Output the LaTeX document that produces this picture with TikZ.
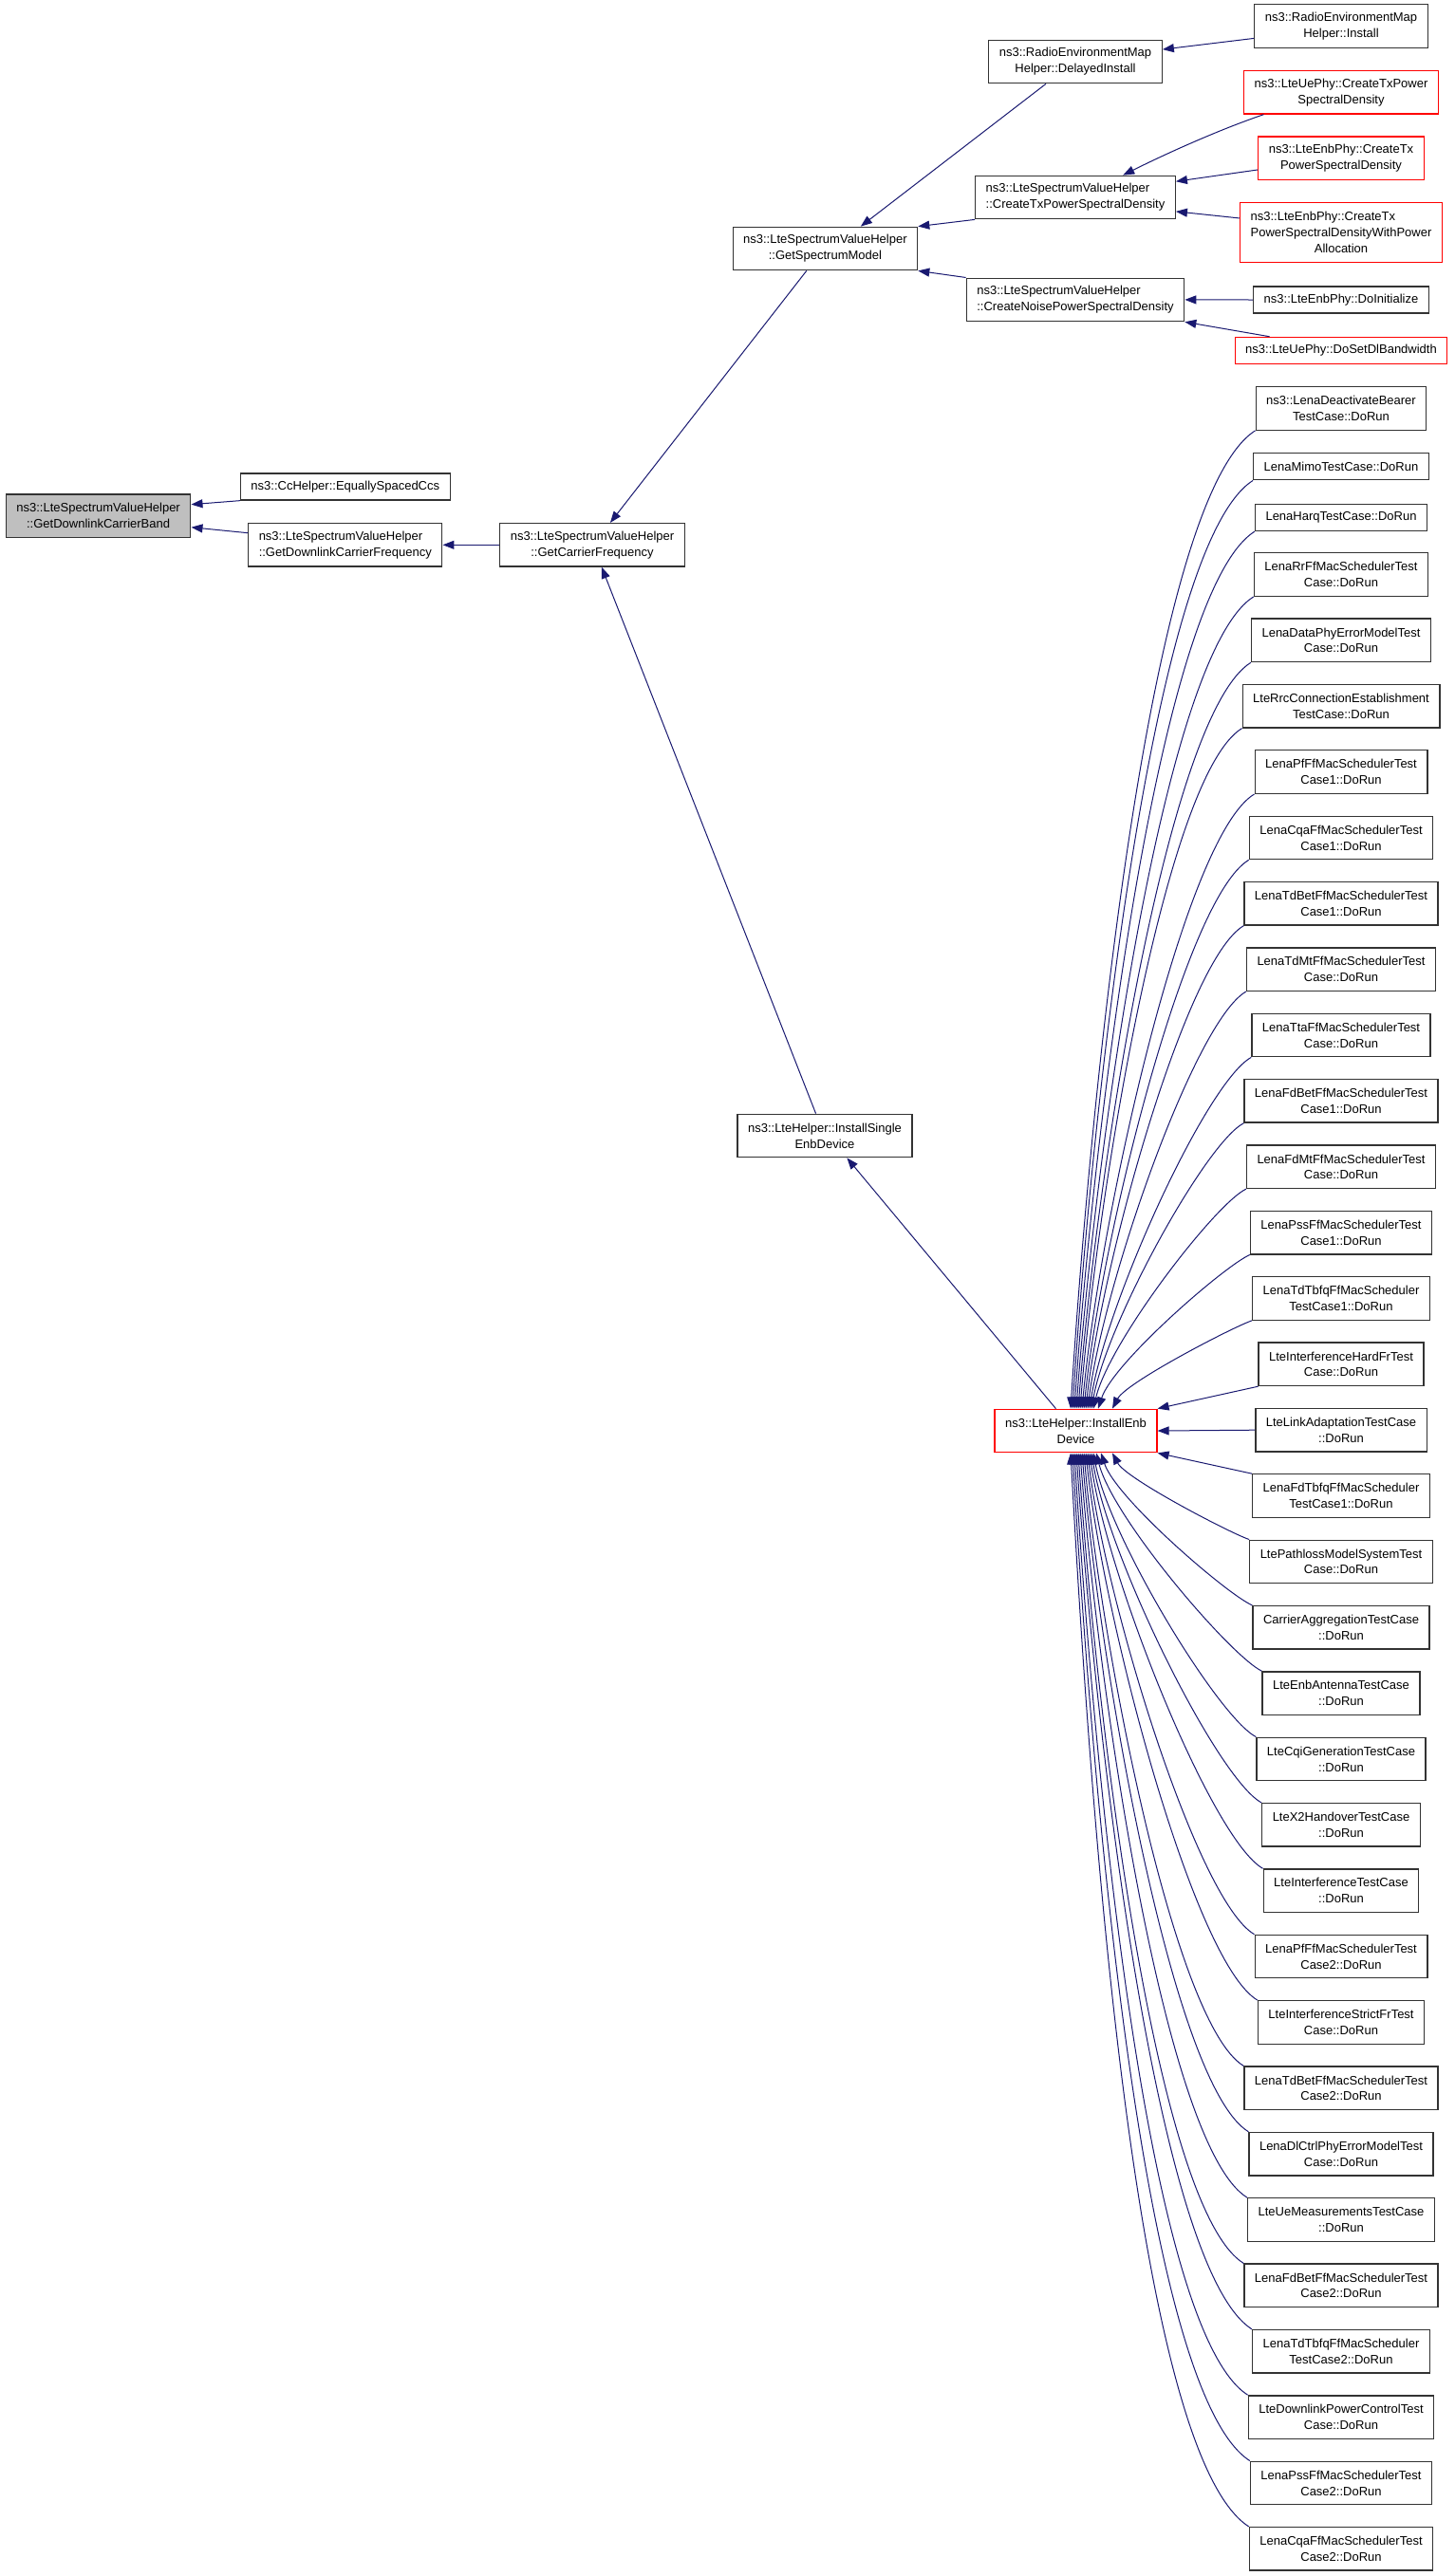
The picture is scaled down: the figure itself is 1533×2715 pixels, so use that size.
\documentclass[tikz,border=0pt]{standalone}
\usepackage{fontspec}
\setmainfont{Liberation Sans}
\usepackage{tikz}
\usetikzlibrary{arrows.meta,calc}
\definecolor{callblue}{HTML}{191970}
\definecolor{curgray}{HTML}{BFBFBF}
\definecolor{undocred}{HTML}{FF0000}
\tikzset{
func/.style={draw=black!80,line width=1.3pt,fill=white,align=center,inner xsep=11pt,inner ysep=2pt,minimum height=28pt,font=\fontsize{13}{16.8}\selectfont},
two/.style={minimum height=45.5pt},
three/.style={minimum height=63.5pt},
cur/.style={fill=curgray},
undoc/.style={draw=undocred},
call/.style={draw=callblue,line width=1pt,-{Triangle[length=12pt,width=9pt]}}
}

\begin{document}
\begin{tikzpicture}[x=1pt,y=-1pt]
\useasboundingbox (0,0) rectangle (1533,2715);
\draw
(103.6,543.7) node[func,two,cur](main){ns3::LteSpectrumValueHelper\\::GetDownlinkCarrierBand}
(363.8,513) node[func](ccs){ns3::CcHelper::EquallySpacedCcs}
(363.8,574.3) node[func,two,align=left](gdcf){ns3::LteSpectrumValueHelper\\::GetDownlinkCarrierFrequency}
(624,574.3) node[func,two](gcf){ns3::LteSpectrumValueHelper\\::GetCarrierFrequency}
(869.4,262) node[func,two](gsm){ns3::LteSpectrumValueHelper\\::GetSpectrumModel}
(869,1197) node[func,two](single){ns3::LteHelper::InstallSingle\\EnbDevice}
(1133,65) node[func,two](delayed){ns3::RadioEnvironmentMap\\Helper::DelayedInstall}
(1133,208) node[func,two,align=left](ctx){ns3::LteSpectrumValueHelper\\::CreateTxPowerSpectralDensity}
(1133,315.9) node[func,two,align=left](cnoise){ns3::LteSpectrumValueHelper\\::CreateNoisePowerSpectralDensity}
(1133.5,1508) node[func,two,undoc](enb){ns3::LteHelper::InstallEnb\\Device}
(1413,27.5) node[func,two](install){ns3::RadioEnvironmentMap\\Helper::Install}
(1413,97.3) node[func,two,undoc](uetx){ns3::LteUePhy::CreateTxPower\\SpectralDensity}
(1413,166.6) node[func,two,undoc](enbtx){ns3::LteEnbPhy::CreateTx\\PowerSpectralDensity}
(1413,245) node[func,three,undoc](enbtxw){\rlap{ns3::LteEnbPhy::CreateTx}\phantom{PowerSpectralDensityWithPower}\\PowerSpectralDensityWithPower\\Allocation}
(1413,316) node[func](doinit){ns3::LteEnbPhy::DoInitialize}
(1413,369.4) node[func,undoc](dosetdl){ns3::LteUePhy::DoSetDlBandwidth}
(1413,430.4) node[func,two](t1){ns3::LenaDeactivateBearer\\TestCase::DoRun}
(1413,491.8) node[func](t2){LenaMimoTestCase::DoRun}
(1413,545.5) node[func](t3){LenaHarqTestCase::DoRun}
;
% test cases calling InstallEnbDevice, one rank, evenly spaced
\foreach \i/\txt in {4/{LenaRrFfMacSchedulerTest\\Case::DoRun}, 5/{LenaDataPhyErrorModelTest\\Case::DoRun},
6/{LteRrcConnectionEstablishment\\TestCase::DoRun}, 7/{LenaPfFfMacSchedulerTest\\Case1::DoRun},
8/{LenaCqaFfMacSchedulerTest\\Case1::DoRun}, 9/{LenaTdBetFfMacSchedulerTest\\Case1::DoRun},
10/{LenaTdMtFfMacSchedulerTest\\Case::DoRun}, 11/{LenaTtaFfMacSchedulerTest\\Case::DoRun},
12/{LenaFdBetFfMacSchedulerTest\\Case1::DoRun}, 13/{LenaFdMtFfMacSchedulerTest\\Case::DoRun},
14/{LenaPssFfMacSchedulerTest\\Case1::DoRun}, 15/{LenaTdTbfqFfMacScheduler\\TestCase1::DoRun},
16/{LteInterferenceHardFrTest\\Case::DoRun}, 17/{LteLinkAdaptationTestCase\\::DoRun},
18/{LenaFdTbfqFfMacScheduler\\TestCase1::DoRun}, 19/{LtePathlossModelSystemTest\\Case::DoRun},
20/{CarrierAggregationTestCase\\::DoRun}, 21/{LteEnbAntennaTestCase\\::DoRun},
22/{LteCqiGenerationTestCase\\::DoRun}, 23/{LteX2HandoverTestCase\\::DoRun},
24/{LteInterferenceTestCase\\::DoRun}, 25/{LenaPfFfMacSchedulerTest\\Case2::DoRun},
26/{LteInterferenceStrictFrTest\\Case::DoRun}, 27/{LenaTdBetFfMacSchedulerTest\\Case2::DoRun},
28/{LenaDlCtrlPhyErrorModelTest\\Case::DoRun}, 29/{LteUeMeasurementsTestCase\\::DoRun},
30/{LenaFdBetFfMacSchedulerTest\\Case2::DoRun}, 31/{LenaTdTbfqFfMacScheduler\\TestCase2::DoRun},
32/{LteDownlinkPowerControlTest\\Case::DoRun}, 33/{LenaPssFfMacSchedulerTest\\Case2::DoRun},
34/{LenaCqaFfMacSchedulerTest\\Case2::DoRun}}{
\node[func,two](t\i) at (1413,{2686.3-(34-\i)*69.36}){\txt};
}
% straight calls
\foreach \x/\y in {ccs.south west/main.7, gdcf.173/main.353, gcf.west/gdcf.east, gsm.230/gcf.51,
single.112/gcf.293, enb.132/single.315, delayed.217/gsm.32, ctx.south west/gsm.north east,
cnoise.north west/gsm.south east, install.188/delayed.8, enbtx.188/ctx.9, enbtxw.172/ctx.352,
doinit.west/cnoise.east, dosetdl.169/cnoise.south east, t16.south west/enb.north east,
t17.west/enb.east, t18.north west/enb.south east}{
\draw[call](\x)--(\y);
}
\draw[call](uetx.196) .. controls +(-50,17) and +(40,-20) .. (ctx.25);
% curved calls into the top of InstallEnbDevice
\foreach \i/\d in {1/-5.5,2/-3.5,3/-1.5,4/0.5,5/2.5,6/4.5,7/6.5,8/8.5,9/10.5,10/12.5,
11/14.5,12/16.5,13/18.5,14/23.5,15/38.5}{
\draw[call] let \p1=(t\i.south west), \p2=([xshift=\d pt]enb.north), \n1={\y2-\y1}, \n2={\x1-\x2} in
(\p1) .. controls ({\x1-0.1*abs(\n1)-10pt},{\y1+0.07*(\n1)}) and ({\x2+0.1*(\n2)},{\y2-0.3*(\n1)}) .. (\p2);
}
% curved calls into the bottom
\foreach \i/\d in {19/38.5,20/26.5,21/21.5,22/18.5,23/16.5,24/14.5,25/12.5,26/10.5,27/8.5,
28/6.5,29/4.5,30/2.5,31/0.5,32/-1.5,33/-3.5,34/-5.5}{
\draw[call] let \p1=(t\i.north west), \p2=([xshift=\d pt]enb.south), \n1={\y2-\y1}, \n2={\x1-\x2} in
(\p1) .. controls ({\x1-0.1*abs(\n1)-10pt},{\y1+0.07*(\n1)}) and ({\x2+0.1*(\n2)},{\y2-0.3*(\n1)}) .. (\p2);
}
\end{tikzpicture}
\end{document}
